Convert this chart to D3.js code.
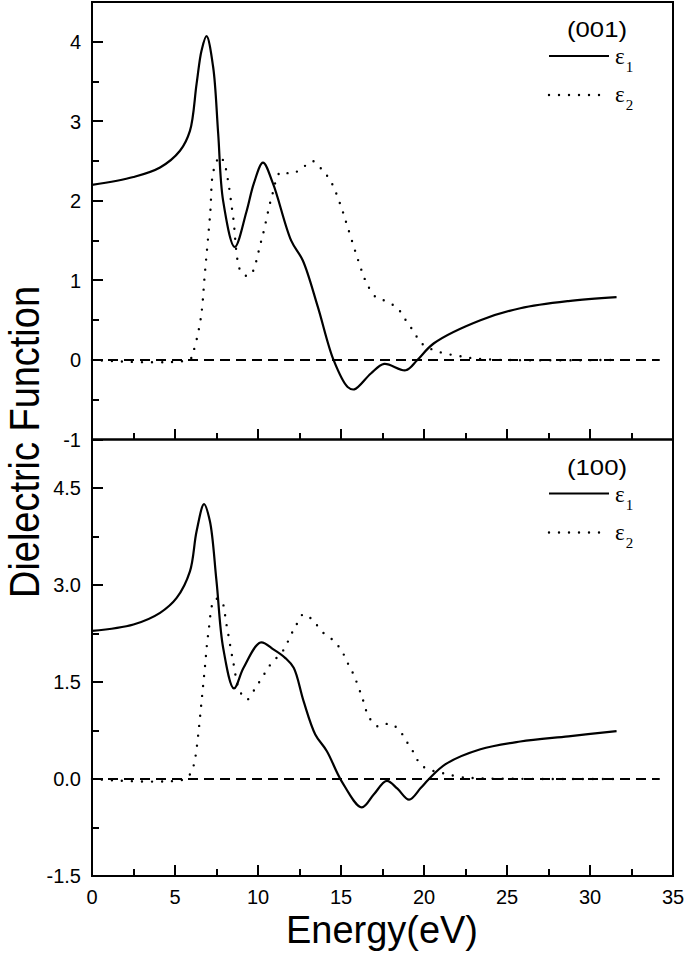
<!DOCTYPE html>
<html>
<head>
<meta charset="utf-8">
<script src="https://cdn.jsdelivr.net/npm/d3@7"></script>
<style>
  body { margin: 0; background: #fff; }
  svg text { font-family: "Liberation Sans", Arial, sans-serif; fill: #000; }
</style>
</head>
<body>
<div id="chart"></div>
<script>
// (001) panel
const e1_001_E = [0, 2.5, 4.1, 5.3, 5.9, 6.3, 6.6, 6.9, 7.3, 7.6, 7.9, 8.6, 9.3, 9.75, 10.3, 10.9, 12.0, 12.7, 13.6, 14.55, 15.4, 15.8, 16.8, 17.6, 18.9, 19.6, 20.6, 23.4, 25.8, 28.7, 31.6];
const e1_001_V = [2.2, 2.30, 2.42, 2.63, 2.88, 3.47, 3.89, 4.07, 3.68, 2.85, 2.0, 1.42, 1.86, 2.22, 2.48, 2.22, 1.5, 1.25, 0.67, 0, -0.34, -0.37, -0.17, -0.05, -0.13, 0.0, 0.21, 0.5, 0.65, 0.74, 0.79];
const e2_001_E = [0, 5.9, 6.1, 6.55, 6.8, 7.12, 7.32, 7.72, 8.0, 8.22, 8.5, 9.0, 9.5, 10.2, 10.85, 11.35, 12.05, 12.7, 13.3, 13.9, 14.4, 15.0, 15.4, 15.9, 16.3, 16.6, 17.1, 17.7, 18.4, 18.9, 19.4, 19.8, 20.4, 21.1, 22.1, 23.5, 31.5];
const e2_001_V = [0, 0.01, 0.1, 0.52, 1.09, 1.84, 2.38, 2.56, 2.45, 2.22, 1.8, 1.1, 1.06, 1.5, 2.07, 2.36, 2.34, 2.42, 2.5, 2.38, 2.24, 1.93, 1.67, 1.34, 1.09, 0.94, 0.79, 0.74, 0.65, 0.5, 0.35, 0.22, 0.14, 0.09, 0.05, 0.01, 0];

// (100) panel
const e1_100_E = [0, 2.5, 4.1, 5.1, 5.9, 6.3, 6.75, 7.1, 7.5, 7.9, 8.55, 9.13, 10.15, 10.95, 11.65, 12.15, 12.75, 13.45, 14.15, 15.05, 16.25, 16.97, 17.75, 18.4, 19.1, 19.8, 20.3, 21.3, 23.4, 25.8, 28.7, 31.6];
const e1_100_V = [2.29, 2.39, 2.57, 2.8, 3.21, 3.83, 4.25, 3.99, 3.06, 2.03, 1.40, 1.72, 2.11, 2.0, 1.87, 1.72, 1.2, 0.69, 0.43, -0.04, -0.44, -0.24, -0.03, -0.15, -0.32, -0.14, 0.0, 0.23, 0.46, 0.58, 0.66, 0.74];
const e2_100_E = [0, 5.6, 6.0, 6.2, 6.4, 6.6, 6.8, 7.0, 7.4, 7.8, 8.1, 8.5, 8.9, 9.35, 9.85, 10.3, 10.75, 11.55, 11.95, 12.3, 12.75, 13.35, 13.85, 14.55, 15.05, 15.35, 15.75, 16.25, 16.7, 17.25, 17.95, 18.55, 19.0, 19.4, 19.8, 20.5, 21.3, 22.2, 23.5, 31.5];
const e2_100_V = [0, 0, 0.12, 0.3, 0.69, 1.2, 1.72, 2.24, 2.78, 2.75, 2.39, 1.82, 1.36, 1.23, 1.41, 1.59, 1.77, 2.0, 2.21, 2.38, 2.55, 2.44, 2.28, 2.14, 1.98, 1.82, 1.62, 1.28, 0.95, 0.81, 0.86, 0.74, 0.56, 0.4, 0.22, 0.13, 0.08, 0.03, 0.01, 0];

// ticks
const xMajor = [0, 5, 10, 15, 20, 25, 30, 35];
const xMinor = [2.5, 7.5, 12.5, 17.5, 22.5, 27.5, 32.5];
const yMajor_001 = [-1, 0, 1, 2, 3, 4];
const yMinor_001 = [-0.5, 0.5, 1.5, 2.5, 3.5];
const yMajor_100 = [-1.5, 0.0, 1.5, 3.0, 4.5];
const yMinor_100 = [-0.75, 0.75, 2.25, 3.75];
const zeroLineE = [0, 34.2];

const W = 685, H = 956;
const left = 92, right = 673;
const majorLen = 11, minorLen = 7;

const svg = d3.select("#chart").append("svg")
    .attr("width", W)
    .attr("height", H);

const x = d3.scaleLinear().domain([0, 35]).range([left, right]);

// origin style: hyphen for minus
const fmtInt = (d) => d3.format("d")(d).replace("\u2212", "-");
const fmtDec = (d) => d3.format(".1f")(d).replace("\u2212", "-");

const panels = [
    { top: 2, bottom: 439.5, domain: [-1, 4.5], major: yMajor_001, minor: yMinor_001, fmt: fmtInt,
      e1E: e1_001_E, e1V: e1_001_V, e2E: e2_001_E, e2V: e2_001_V, label: "(001)", xLabels: false },
    { top: 439.5, bottom: 876, domain: [-1.5, 5.25], major: yMajor_100, minor: yMinor_100, fmt: fmtDec,
      e1E: e1_100_E, e1V: e1_100_V, e2E: e2_100_E, e2V: e2_100_V, label: "(100)", xLabels: true }
];

panels.forEach((p, i) => {
    const y = d3.scaleLinear().domain(p.domain).range([p.bottom, p.top]);
    const g = svg.append("g").attr("class", "panel" + i);

    // zero reference line
    g.append("line")
        .attr("x1", x(zeroLineE[0])).attr("x2", x(zeroLineE[1]))
        .attr("y1", y(0)).attr("y2", y(0))
        .attr("stroke", "#000").attr("stroke-width", 2)
        .attr("stroke-dasharray", "10,6");

    const line = d3.line()
        .x((d) => x(d[0]))
        .y((d) => y(d[1]))
        .curve(d3.curveCatmullRom.alpha(0.5));

    // eps2 dotted
    g.append("path")
        .datum(d3.zip(p.e2E, p.e2V))
        .attr("d", line)
        .attr("fill", "none")
        .attr("stroke", "#000")
        .attr("stroke-width", 2.4)
        .attr("stroke-linecap", "round")
        .attr("stroke-dasharray", "0,10");

    // eps1 solid
    g.append("path")
        .datum(d3.zip(p.e1E, p.e1V))
        .attr("d", line)
        .attr("fill", "none")
        .attr("stroke", "#000")
        .attr("stroke-width", 2.2);

    // frame
    g.append("rect")
        .attr("x", left).attr("y", p.top)
        .attr("width", right - left).attr("height", p.bottom - p.top)
        .attr("fill", "none").attr("stroke", "#000").attr("stroke-width", 2);

    // ticks, all pointing into the panel
    const ticks = g.append("g")
        .attr("stroke", "#000")
        .attr("stroke-width", 2)
        .attr("shape-rendering", "crispEdges");

    ticks.selectAll("line.ymaj").data(p.major).join("line")
        .attr("class", "ymaj")
        .attr("x1", left).attr("x2", left + majorLen)
        .attr("y1", (d) => y(d)).attr("y2", (d) => y(d));
    ticks.selectAll("line.ymin").data(p.minor).join("line")
        .attr("class", "ymin")
        .attr("x1", left).attr("x2", left + minorLen)
        .attr("y1", (d) => y(d)).attr("y2", (d) => y(d));
    ticks.selectAll("line.xmaj").data(xMajor).join("line")
        .attr("class", "xmaj")
        .attr("x1", (d) => x(d)).attr("x2", (d) => x(d))
        .attr("y1", p.bottom).attr("y2", p.bottom - majorLen);
    ticks.selectAll("line.xmin").data(xMinor).join("line")
        .attr("class", "xmin")
        .attr("x1", (d) => x(d)).attr("x2", (d) => x(d))
        .attr("y1", p.bottom).attr("y2", p.bottom - minorLen);

    g.selectAll("text.ylabel").data(p.major).join("text")
        .attr("class", "ylabel")
        .attr("x", left - 11)
        .attr("y", (d) => y(d))
        .attr("dy", "0.36em")
        .attr("text-anchor", "end")
        .style("font-size", "20px")
        .text(p.fmt);

    if (p.xLabels) {
        g.selectAll("text.xlabel").data(xMajor).join("text")
            .attr("class", "xlabel")
            .attr("x", (d) => x(d))
            .attr("y", p.bottom + 28)
            .attr("text-anchor", "middle")
            .style("font-size", "20px")
            .text(fmtInt);
    }

    // legend
    const lg = g.append("g").attr("transform", "translate(0," + p.top + ")");
    lg.append("text")
        .attr("x", 567).attr("y", 35)
        .attr("textLength", 60)
        .attr("lengthAdjust", "spacingAndGlyphs")
        .style("font-size", "22px")
        .text(p.label);
    lg.append("line")
        .attr("x1", 549).attr("x2", 609).attr("y1", 54).attr("y2", 54)
        .attr("stroke", "#000").attr("stroke-width", 2.2);
    lg.append("line")
        .attr("x1", 549).attr("x2", 609).attr("y1", 93).attr("y2", 93)
        .attr("stroke", "#000").attr("stroke-width", 2.4)
        .attr("stroke-linecap", "round").attr("stroke-dasharray", "0,10");

    const eps = [["1", 62], ["2", 100]];
    eps.forEach((e) => {
        const t = lg.append("text")
            .attr("x", 615).attr("y", e[1])
            .style("font-family", "Liberation Serif, Times New Roman, serif")
            .style("font-size", "23px")
            .text("\u03b5");
        t.append("tspan")
            .attr("dy", 8)
            .attr("dx", 1)
            .style("font-size", "15px")
            .text(e[0]);
    });
});

// axis titles
svg.append("text")
    .attr("transform", "translate(39,442) rotate(-90)")
    .attr("text-anchor", "middle")
    .attr("textLength", 312)
    .attr("lengthAdjust", "spacingAndGlyphs")
    .style("font-size", "42px")
    .text("Dielectric Function");

svg.append("text")
    .attr("x", 382).attr("y", 943)
    .attr("text-anchor", "middle")
    .attr("textLength", 192)
    .attr("lengthAdjust", "spacingAndGlyphs")
    .style("font-size", "39px")
    .text("Energy(eV)");
</script>
</body>
</html>
